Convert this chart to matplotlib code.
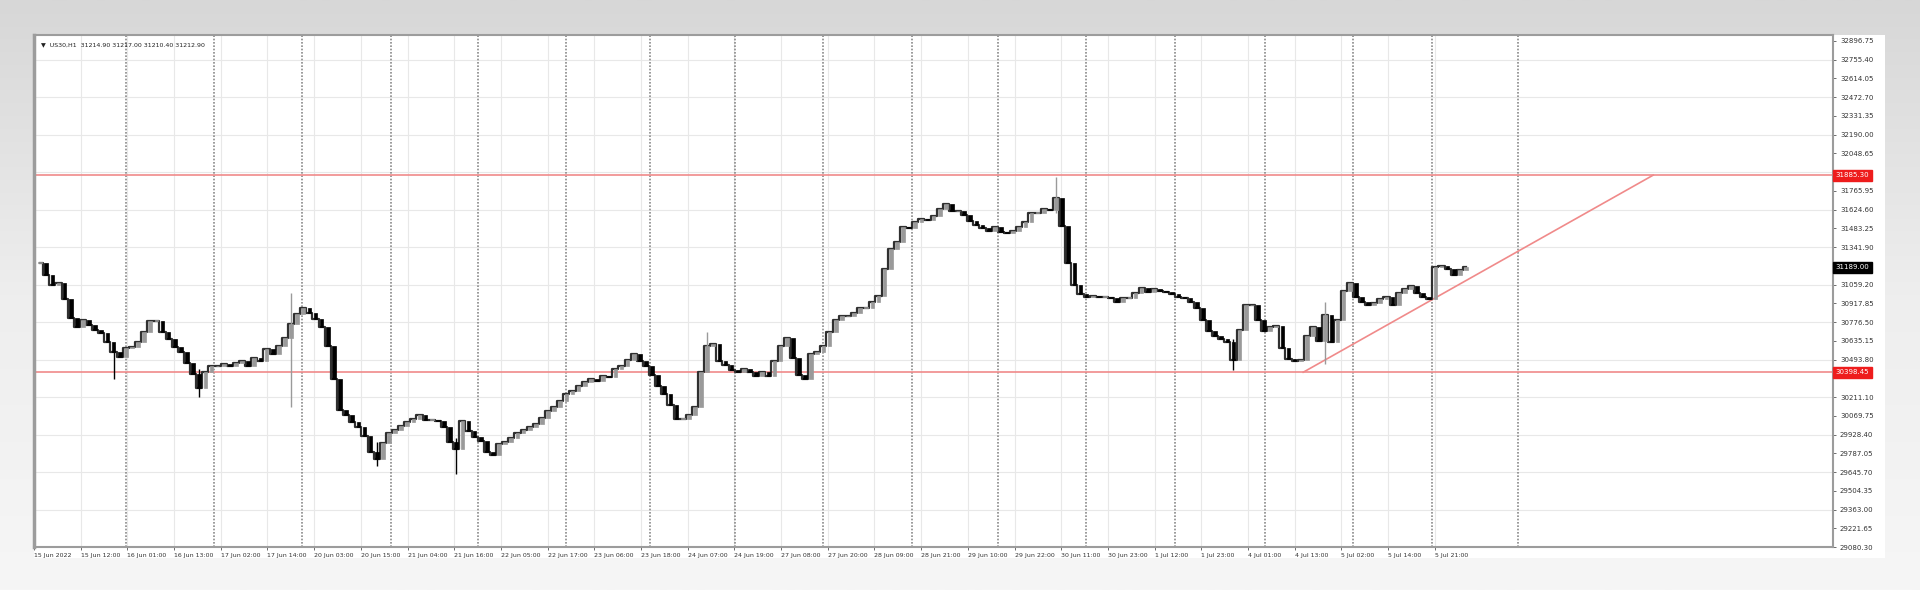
import numpy as np
import matplotlib.pyplot as plt
from matplotlib.patches import Rectangle
from matplotlib.transforms import blended_transform_factory

# closes, one per bar (left to right)
closes = [
    31226, 31134, 31060, 31069, 30950, 30811, 30738, 30793, 30756, 30719,
    30692, 30627, 30554, 30517, 30581, 30591, 30627, 30701, 30784, 30784,
    30701, 30646, 30591, 30554, 30471, 30388, 30277, 30397, 30443, 30443,
    30462, 30443, 30471, 30480, 30443, 30508, 30480, 30572, 30535, 30600,
    30655, 30765, 30839, 30885, 30848, 30802, 30738, 30600, 30351, 30112,
    30075, 30020, 29983, 29918, 29799, 29744, 29863, 29937, 29965, 29992,
    30020, 30047, 30075, 30038, 30038, 30029, 29983, 29872, 29817, 30029,
    29955, 29909, 29881, 29799, 29771, 29854, 29872, 29900, 29937, 29965,
    29983, 30011, 30057, 30103, 30139, 30185, 30231, 30259, 30296, 30323,
    30351, 30333, 30370, 30360, 30425, 30443, 30489, 30535, 30480, 30443,
    30379, 30296, 30231, 30149, 30047, 30047, 30075, 30139, 30397, 30600,
    30609, 30480, 30452, 30416, 30397, 30425, 30397, 30370, 30397, 30370,
    30480, 30600, 30655, 30508, 30379, 30351, 30535, 30554, 30600, 30701,
    30793, 30821, 30821, 30848, 30885, 30885, 30931, 30977, 31180, 31327,
    31382, 31493, 31483, 31530, 31557, 31548, 31575, 31631, 31667, 31612,
    31612, 31585, 31539, 31511, 31483, 31465, 31493, 31456, 31447, 31465,
    31493, 31530, 31603, 31603, 31631, 31622, 31714, 31502, 31226, 31060,
    30986, 30968, 30977, 30968, 30968, 30959, 30931, 30959, 30959, 30996,
    31032, 31005, 31023, 31014, 31005, 30986, 30968, 30959, 30931, 30885,
    30793, 30710, 30674, 30646, 30627, 30489, 30719, 30904, 30904, 30793,
    30710, 30738, 30747, 30581, 30498, 30480, 30489, 30673, 30738, 30636,
    30830, 30627, 30793, 31014, 31069, 30968, 30931, 30904, 30922, 30950,
    30968, 30904, 30996, 31023, 31051, 30996, 30968, 30950, 31189, 31198,
    31180, 31134, 31171, 31189,
]

# long wicks visible on the chart: bar index, low, high
spike_idx = [12, 26, 41, 55, 68, 109, 166, 195, 210]
spike_low = [30351, 30213, 30139, 29689, 29633, 30540, 31600, 30416, 30462]
spike_high = [30600, 30420, 30999, 29870, 29900, 30701, 31870, 30650, 30931]

y_top = 32896.75
y_step = 141.35
y_ticks = [round(y_top - y_step * k, 2) for k in range(28)]

x_labels = [
    "15 Jun 2022", "15 Jun 12:00", "16 Jun 01:00", "16 Jun 13:00", "17 Jun 02:00",
    "17 Jun 14:00", "20 Jun 03:00", "20 Jun 15:00", "21 Jun 04:00", "21 Jun 16:00",
    "22 Jun 05:00", "22 Jun 17:00", "23 Jun 06:00", "23 Jun 18:00", "24 Jun 07:00",
    "24 Jun 19:00", "27 Jun 08:00", "27 Jun 20:00", "28 Jun 09:00", "28 Jun 21:00",
    "29 Jun 10:00", "29 Jun 22:00", "30 Jun 11:00", "30 Jun 23:00", "1 Jul 12:00",
    "1 Jul 23:00", "4 Jul 01:00", "4 Jul 13:00", "5 Jul 02:00", "5 Jul 14:00",
    "5 Jul 21:00",
]

# day separators (bar positions)
day_breaks = [14.0, 28.4, 42.8, 57.4, 71.6, 86.0, 99.7, 113.6, 127.9, 142.5,
              156.5, 170.9, 185.5, 200.2, 214.5, 227.5, 241.5]

resistance = 31885.30
support = 30398.45
trend_x = [206.4, 263.6]
trend_y = [support, resistance]
last_price = 31189.00

fig = plt.figure(figsize=(19.2, 5.9), dpi=100)

# gray gradient backdrop + white chart window
bg = fig.add_axes([0, 0, 1, 1], zorder=0)
grad = np.linspace(0, 1, 256).reshape(-1, 1)
bg.imshow(grad, aspect="auto", cmap=plt.matplotlib.colors.LinearSegmentedColormap.from_list(
    "g", ["#d7d7d7", "#eeeeee", "#f6f6f6"]), extent=[0, 1, 0, 1])
bg.add_patch(Rectangle((34 / 1920, 1 - 558 / 590), (1885 - 34) / 1920, (558 - 35) / 590,
                       transform=bg.transAxes, facecolor="white", edgecolor="none"))
bg.set_xlim(0, 1)
bg.set_ylim(0, 1)
bg.axis("off")

ax = fig.add_axes([34 / 1920, 1 - 547 / 590, (1833 - 34) / 1920, (547 - 35) / 590], zorder=2)
ax.set_facecolor("white")

n = len(closes)
xs = np.arange(n)
opens = [closes[0]] + closes[:-1]

# grid
for yv in y_ticks[1::2]:
    ax.axhline(yv, color="#e8e8e8", lw=0.8, zorder=0)
x_label_pos = np.arange(len(x_labels)) * 7.63 - 1
for xv in x_label_pos:
    ax.axvline(xv, color="#e8e8e8", lw=0.8, zorder=0)
for xv in day_breaks:
    ax.axvline(xv, color="#8a8a8a", lw=1.2, ls=(0, (1, 1)), zorder=0.5)

# support / resistance / trend
ax.axhline(resistance, color="#f08a8a", lw=1.2, zorder=1)
ax.axhline(support, color="#f08a8a", lw=1.2, zorder=1)
ax.plot(trend_x, trend_y, color="#f08a8a", lw=1.2, zorder=1)

# price path underneath the bodies
ax.plot(xs, closes, color="#303030", lw=1.6, zorder=2, drawstyle="steps-mid")

# wicks
for i, lo, hi in zip(spike_idx, spike_low, spike_high):
    c = "black" if closes[i] < opens[i] else "#9a9a9a"
    ax.vlines(i, lo, hi, color=c, lw=1.0, zorder=2)

# candle bodies
for i in range(n):
    o, c = opens[i], closes[i]
    down = c < o
    col = "black" if down else "#9a9a9a"
    lo, hi = min(o, c), max(o, c)
    if hi - lo < 5:
        hi = lo + 5
    ax.add_patch(Rectangle((i - 0.3, lo), 0.6, hi - lo, facecolor=col,
                           edgecolor=col, lw=0.5, zorder=3))

ax.set_xlim(-0.98, 292.97)
ax.set_ylim(29080.3, 32942)

tags = [(resistance, "#ee1c1c"), (last_price, "black"), (support, "#ee1c1c")]

ax.yaxis.tick_right()
ax.set_yticks(y_ticks)
# tick labels hidden behind a price tag are left blank
ytl = []
for v in y_ticks:
    covered = any(abs(v - t) < 60 for t, _ in tags)
    ytl.append("" if covered else f"{v:.2f}")
ax.set_yticklabels(ytl, fontsize=5, color="#333333")
ax.set_xticks(x_label_pos)
ax.set_xticklabels(x_labels, fontsize=4.5, color="#333333", ha="left")
ax.tick_params(axis="y", length=2, width=0.6, pad=3, colors="#555555", labelcolor="#333333")
ax.tick_params(axis="x", length=2, width=0.6, pad=2, colors="#555555", labelcolor="#333333")

for s in ax.spines.values():
    s.set_color("#9c9c9c")
    s.set_linewidth(1.5)
ax.spines["left"].set_linewidth(2.5)

# price tags on the right axis
tr = blended_transform_factory(ax.transAxes, ax.transData)
for val, fc in tags:
    ax.text(1.0015, val, f"{val:.2f}", transform=tr, fontsize=5, color="white",
            ha="left", va="center", zorder=10, clip_on=False,
            bbox=dict(boxstyle="square,pad=0.35", facecolor=fc, edgecolor=fc))

# symbol header
ax.text(0.004, 0.985, "\u25bc  US30,H1  31214.90 31217.00 31210.40 31212.90",
        transform=ax.transAxes, fontsize=4.5, color="#222222", ha="left", va="top", zorder=10)

fig.savefig("out.png", dpi=100)
